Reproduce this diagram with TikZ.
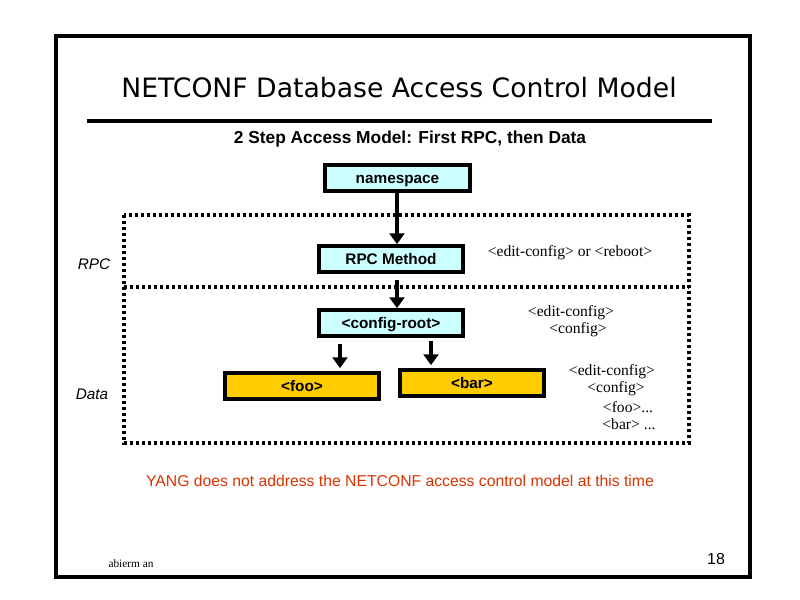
\documentclass[tikz,border=0pt]{standalone}
\usepackage{fontspec}
\setmainfont{Liberation Serif}
\setsansfont{Liberation Sans}
\newfontfamily\titlefont{DejaVu Sans}
\usetikzlibrary{arrows.meta,calc}
\definecolor{boxcyan}{HTML}{CCFFFF}
\definecolor{boxgold}{HTML}{FFCC00}
\definecolor{notered}{HTML}{DD3300}
\tikzset{
  px/.style={x=0.75pt,y=-0.75pt},
  cbox/.style={draw=black,line width=2.8pt,fill=boxcyan,inner sep=0pt,text height=8.5pt,text depth=0.5pt,font=\sffamily\bfseries\fontsize{11.5}{13}\selectfont},
  gbox/.style={draw=black,line width=2.8pt,fill=boxgold,inner sep=0pt,text height=8.5pt,text depth=0.5pt,font=\sffamily\bfseries\fontsize{11.5}{13}\selectfont},
  flow/.style={line width=2.8pt,-{Triangle[width=11pt,length=8pt]}},
  dotline/.style={line width=2.4pt,dash pattern=on 2.25pt off 2.25pt},
  note/.style={font=\fontsize{11.7}{12}\selectfont,inner sep=0pt},
  side/.style={font=\sffamily\itshape\fontsize{11.5}{13}\selectfont,inner sep=0pt}
}
\begin{document}
\begin{tikzpicture}[px]
\useasboundingbox (0,0) rectangle (800,600);
\fill[white] (0,0) rectangle (800,600);
% frame
\node[draw=black,line width=3.2pt,minimum width=694.5*0.75pt,minimum height=541*0.75pt,inner sep=0pt] (frame) at (403,306.5) {};
% title
\node[font=\titlefont\fontsize{20}{24}\selectfont,inner sep=0pt] (title) at (399,88) {NETCONF Database Access Control Model};
\coordinate (rl) at (87,121);
\coordinate (rr) at (712,121);
\draw[line width=3.2pt] (rl) -- (rr);
\node[font=\sffamily\bfseries\fontsize{13}{15}\selectfont,inner sep=0pt] (sub) at (410,139) {2 Step Access Model: First RPC, then Data};
% dotted regions
\coordinate (d1) at (124,215);
\coordinate (d2) at (689,443);
\coordinate (m1) at (124,287);
\coordinate (m2) at (689,287);
\draw[dotline] (d1) rectangle (d2);
\draw[dotline] (m1) -- (m2);
% boxes
\node[cbox,minimum width=145*0.75pt,minimum height=26*0.75pt] (ns) at (397.5,178) {namespace};
\node[cbox,minimum width=144*0.75pt,minimum height=26*0.75pt] (rpc) at (391,259) {RPC Method};
\node[cbox,minimum width=144*0.75pt,minimum height=26*0.75pt] (root) at (391,323) {<config-root>};
\node[gbox,minimum width=154*0.75pt,minimum height=26*0.75pt] (foo) at (302,386) {<foo>};
\node[gbox,minimum width=144*0.75pt,minimum height=26*0.75pt] (bar) at (472,383) {<bar>};
% arrows
\coordinate (x1) at (397,0);
\draw[flow] (ns.south -| x1) -- (rpc.north -| x1);
\coordinate (a2s) at (397,280);
\coordinate (a3s) at (340,344);
\coordinate (a4s) at (431,341);
\draw[flow] (a2s) -- (root.north -| a2s);
\draw[flow] (a3s) -- ($(foo.north -| a3s)+(0,-3)$);
\draw[flow] (a4s) -- ($(bar.north -| a4s)+(0,-3)$);
% notes
\node[note] (n1) at (570,253) {<edit-config> or <reboot>};
\node[note] (n2) at (571,313) {<edit-config>};
\node[note] (n3) at (578,330) {<config>};
\node[note] (n4) at (612,372) {<edit-config>};
\node[note] (n5) at (616,389) {<config>};
\node[note] (n6) at (628,407) {<foo>...};
\node[note] (n7) at (629,424) {<bar> ...};
\node[side] (lrpc) at (94,264) {RPC};
\node[side] (ldata) at (92,394) {Data};
\node[font=\sffamily\fontsize{11.8}{14}\selectfont,text=notered,inner sep=0pt] (yang) at (400,481) {YANG does not address the NETCONF access control model at this time};
\node[font=\fontsize{8.5}{10}\selectfont,inner sep=0pt] (auth) at (131,564) {abierm an};
\node[font=\sffamily\fontsize{12}{14}\selectfont,inner sep=0pt] (pg) at (716,559) {18};
\end{tikzpicture}
\end{document}
